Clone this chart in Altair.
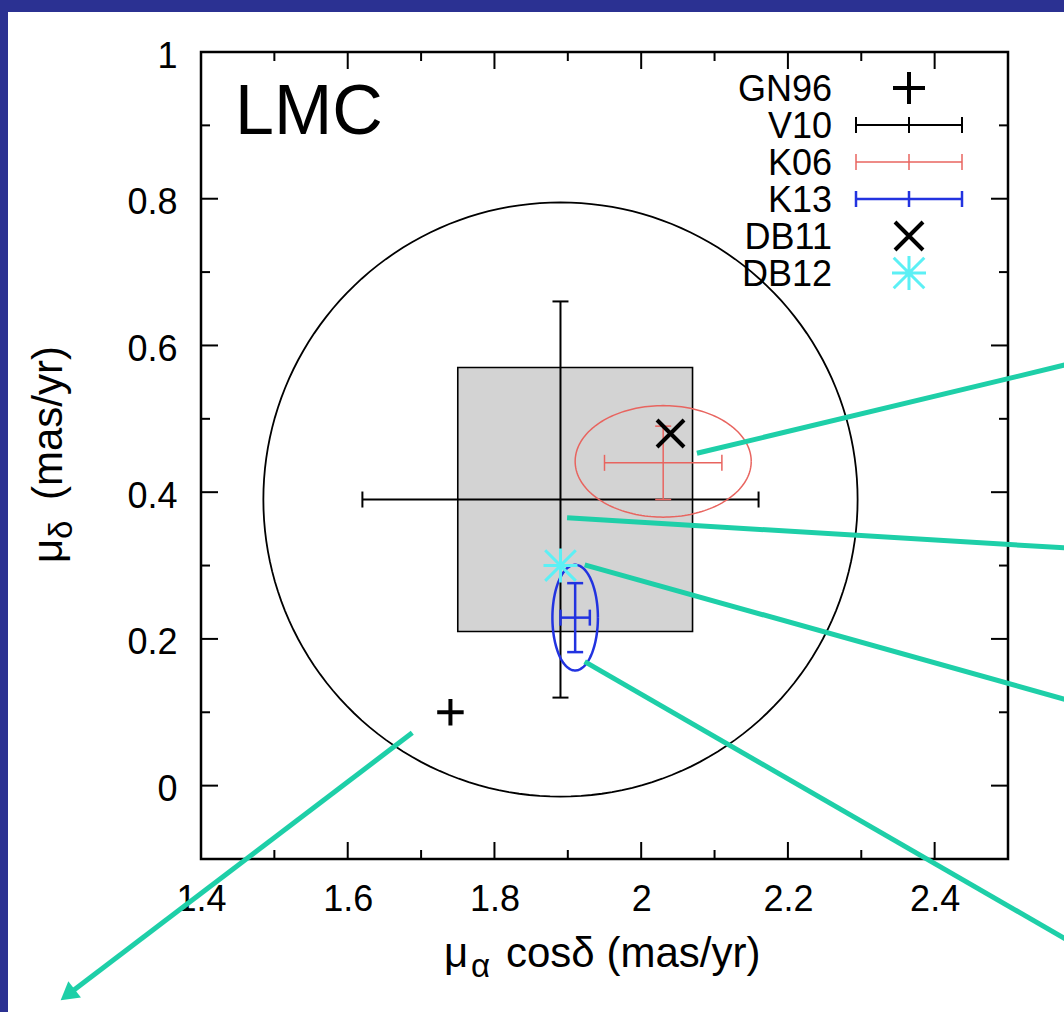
import altair as alt
import pandas as pd

# ---------------- data ----------------
series_names = ["GN96", "V10", "K06", "K13", "DB11", "DB12"]

# measurements with 1-sigma error bars: mu_alpha cos(delta), mu_delta
eb_names = ["V10", "K06", "K13"]
eb_x = [1.89, 2.03, 1.91]
eb_y = [0.39, 0.44, 0.229]
eb_xerr = [0.27, 0.08, 0.02]
eb_yerr = [0.27, 0.05, 0.047]

# single-point measurements
pt_names = ["GN96", "DB11", "DB12"]
pt_x = [1.74, 2.04, 1.89]
pt_y = [0.10, 0.48, 0.30]

# error ellipses (centre, semi-axes)
ell_names = ["K06", "K13"]
ell_cx = [2.03, 1.91]
ell_cy = [0.442, 0.229]
ell_rx = [0.12, 0.031]
ell_ry = [0.076, 0.072]

# large circle (centre, radius)
circ_cx = [1.89]
circ_cy = [0.39]
circ_r = [0.405]

# grey box
box_x = [1.75, 2.07]
box_y = [0.21, 0.57]

# axis ticks
x_major = [1.4, 1.6, 1.8, 2.0, 2.2, 2.4]
x_minor = [1.5, 1.7, 1.9, 2.1, 2.3]
y_major = [0.0, 0.2, 0.4, 0.6, 0.8, 1.0]
y_minor = [0.1, 0.3, 0.5, 0.7, 0.9]

# pointer lines on the slide (data coordinates)
ptr_x1 = [2.076, 1.899, 1.923, 1.923, 1.688]
ptr_y1 = [0.453, 0.365, 0.301, 0.169, 0.072]
ptr_x2 = [2.58, 2.58, 2.58, 2.58, 1.2214]
ptr_y2 = [0.574, 0.324, 0.117, -0.210, -0.2827]

# ---------------- style ----------------
W = H = 807
PADL, PADT, PADR, PADB = 201, 52, 56, 153
FONT = "Liberation Sans"
NAVY = "#2b3192"
TEAL = "#1ecfa8"
RED = "#e8645f"
BLUE = "#2233e0"
CYAN = "#5cf0f5"
GREY = "#d3d3d3"

PLUS = "M-1,0L1,0M0,-1L0,1"
XMARK = "M-1,-1L1,1M-1,1L1,-1"
STAR = "M-1,0L1,0M0,-1L0,1M-0.9,-0.9L0.9,0.9M-0.9,0.9L0.9,-0.9"

XS = alt.Scale(domain=[1.4, 2.5], nice=False, zero=False)
YS = alt.Scale(domain=[-0.1, 1.0], nice=False, zero=False)
AX = alt.Axis(values=x_major, format="~g", ticks=False, tickSize=0, domain=False,
              grid=False, labelFontSize=36, labelFont=FONT, labelColor="black",
              labelPadding=23, title=None, labelFlush=False, labelOverlap=False)
AY = alt.Axis(values=y_major, format="~g", ticks=False, tickSize=0, domain=False,
              grid=False, labelFontSize=36, labelFont=FONT, labelColor="black",
              labelPadding=24, labelOffset=4, title=None, labelFlush=False,
              labelOverlap=False)


def X(f):
    return alt.X(f, type="quantitative", scale=XS, axis=AX)


def Y(f):
    return alt.Y(f, type="quantitative", scale=YS, axis=AY)


one = alt.Data(values=[{}])
layers = []

# slide background strips
layers.append(alt.Chart(one).mark_rect(color=NAVY).encode(
    x=alt.value(-PADL), x2=alt.value(-PADL + 8), y=alt.value(-PADT), y2=alt.value(H + PADB)))
layers.append(alt.Chart(one).mark_rect(color=NAVY).encode(
    x=alt.value(-PADL), x2=alt.value(W + PADR), y=alt.value(-PADT), y2=alt.value(-PADT + 12)))


def ring(cx, cy, rx, ry, color, sw):
    return alt.Chart(alt.sequence(0, 362, 2, as_="t")).transform_calculate(
        ex=f"{cx} + {rx} * cos(datum.t * PI / 180)",
        ey=f"{cy} + {ry} * sin(datum.t * PI / 180)",
    ).mark_line(color=color, strokeWidth=sw).encode(
        x=X("ex"), y=Y("ey"), order=alt.Order("t:Q"))


# big circle
layers.append(ring(circ_cx[0], circ_cy[0], circ_r[0], circ_r[0], "black", 1.8))

# grey box
box_df = pd.DataFrame({"x1": [box_x[0]], "x2": [box_x[1]], "y1": [box_y[0]], "y2": [box_y[1]]})
layers.append(alt.Chart(box_df).mark_rect(fill=GREY, stroke="black", strokeWidth=1.6).encode(
    x=X("x1"), x2="x2", y=Y("y1"), y2="y2"))

eb_df = pd.DataFrame({"name": eb_names, "x": eb_x, "y": eb_y, "xe": eb_xerr, "ye": eb_yerr})
eb_style = {"V10": ("black", 2.0), "K06": (RED, 1.5), "K13": (BLUE, 2.5)}


def errbar(name):
    color, sw = eb_style[name]
    base = alt.Chart(eb_df).transform_filter(alt.datum.name == name).transform_calculate(
        xl="datum.x - datum.xe", xh="datum.x + datum.xe",
        yl="datum.y - datum.ye", yh="datum.y + datum.ye")
    out = [
        base.mark_rule(color=color, strokeWidth=sw).encode(x=X("xl"), x2="xh", y=Y("y")),
        base.mark_rule(color=color, strokeWidth=sw).encode(x=X("x"), y=Y("yl"), y2="yh"),
    ]
    for f in ["xl", "xh"]:
        out.append(base.mark_rule(color=color, strokeWidth=sw, yOffset=-8, y2Offset=8).encode(
            x=X(f), y=Y("y"), y2="y"))
    for f in ["yl", "yh"]:
        out.append(base.mark_rule(color=color, strokeWidth=sw, xOffset=-8, x2Offset=8).encode(
            x=X("x"), x2="x", y=Y(f)))
    return out


layers += errbar("V10")
layers.append(ring(ell_cx[0], ell_cy[0], ell_rx[0], ell_ry[0], RED, 1.5))
layers += errbar("K06")
layers.append(ring(ell_cx[1], ell_cy[1], ell_rx[1], ell_ry[1], BLUE, 2.5))
layers += errbar("K13")

pt_df = pd.DataFrame({"name": pt_names, "x": pt_x, "y": pt_y})
pt_style = {"GN96": (PLUS, "black", 4, 1024), "DB11": (XMARK, "black", 4, 784),
            "DB12": (STAR, CYAN, 3, 1156)}
pt_plot_size = {"GN96": 700, "DB11": 729, "DB12": 1156}
for nm in pt_names:
    shp, col, sw, sz = pt_style[nm]
    layers.append(alt.Chart(pt_df).transform_filter(alt.datum.name == nm).mark_point(
        shape=shp, filled=False, stroke=col, strokeWidth=sw, size=pt_plot_size[nm],
        opacity=1).encode(x=X("x"), y=Y("y")))

# pointer lines
ptr_df = pd.DataFrame({"x1": ptr_x1, "y1": ptr_y1, "x2": ptr_x2, "y2": ptr_y2})
layers.append(alt.Chart(ptr_df).mark_rule(color=TEAL, strokeWidth=5).encode(
    x=X("x1"), x2="x2", y=Y("y1"), y2="y2"))
layers.append(alt.Chart(ptr_df.tail(1)).mark_point(
    shape="triangle", filled=True, color=TEAL, size=420, angle=232, opacity=1).encode(
    x=X("x2"), y=Y("y2")))

# inward ticks on all four sides
for vals, ln in [(x_major, 17), (x_minor, 9)]:
    d = pd.DataFrame({"v": vals})
    layers.append(alt.Chart(d).mark_rule(color="black", strokeWidth=2).encode(
        x=X("v"), y=alt.value(H), y2=alt.value(H - ln)))
    layers.append(alt.Chart(d).mark_rule(color="black", strokeWidth=2).encode(
        x=X("v"), y=alt.value(0), y2=alt.value(ln)))
for vals, ln in [(y_major, 17), (y_minor, 9)]:
    d = pd.DataFrame({"v": vals})
    layers.append(alt.Chart(d).mark_rule(color="black", strokeWidth=2).encode(
        y=Y("v"), x=alt.value(0), x2=alt.value(ln)))
    layers.append(alt.Chart(d).mark_rule(color="black", strokeWidth=2).encode(
        y=Y("v"), x=alt.value(W), x2=alt.value(W - ln)))

# legend
LX_TEXT, LX_C, LHALF = 631, 708, 53
for i, nm in enumerate(series_names):
    ry = 36 + 37 * i
    layers.append(alt.Chart(pd.DataFrame({"name": [nm]})).mark_text(
        font=FONT, fontSize=36, align="right", baseline="middle", dy=2, color="black").encode(
        x=alt.value(LX_TEXT), y=alt.value(ry), text="name:N"))
    if nm in eb_style:
        color, sw = eb_style[nm]
        layers.append(alt.Chart(one).mark_rule(color=color, strokeWidth=sw).encode(
            x=alt.value(LX_C - LHALF), x2=alt.value(LX_C + LHALF), y=alt.value(ry)))
        for cxp in [LX_C - LHALF, LX_C, LX_C + LHALF]:
            layers.append(alt.Chart(one).mark_rule(color=color, strokeWidth=sw).encode(
                x=alt.value(cxp), y=alt.value(ry - 8), y2=alt.value(ry + 8)))
    else:
        shp, col, sw, sz = pt_style[nm]
        layers.append(alt.Chart(one).mark_point(
            shape=shp, filled=False, stroke=col, strokeWidth=sw, size=sz, opacity=1).encode(
            x=alt.value(LX_C), y=alt.value(ry)))

# panel label
layers.append(alt.Chart(one).mark_text(
    text="LMC", font=FONT, fontSize=70, align="left", baseline="alphabetic", color="black").encode(
    x=alt.value(34), y=alt.value(82)))

# axis titles with subscripts
def txt(s, x, y, size, angle=0):
    kw = dict(text=s, font=FONT, fontSize=size, align="left", baseline="alphabetic", color="black")
    if angle:
        kw["angle"] = angle
    return alt.Chart(one).mark_text(**kw).encode(x=alt.value(x), y=alt.value(y))


layers.append(txt("μ", 243, 915, 42))
layers.append(txt("α", 270, 925, 33))
layers.append(txt("cosδ (mas/yr)", 305, 915, 42))
layers.append(txt("μ", -139, 511, 42, 270))
layers.append(txt("δ", -129, 487, 33, 270))
layers.append(txt("(mas/yr)", -139, 448, 42, 270))

chart = alt.layer(*layers).properties(
    width=W, height=H,
    padding={"left": PADL, "top": PADT, "right": PADR, "bottom": PADB},
    autosize=alt.AutoSizeParams(type="none"),
    background="white",
).configure_view(stroke="black", strokeWidth=2.5)

chart.save("out.html", embed_options={"renderer": "svg", "actions": False})
